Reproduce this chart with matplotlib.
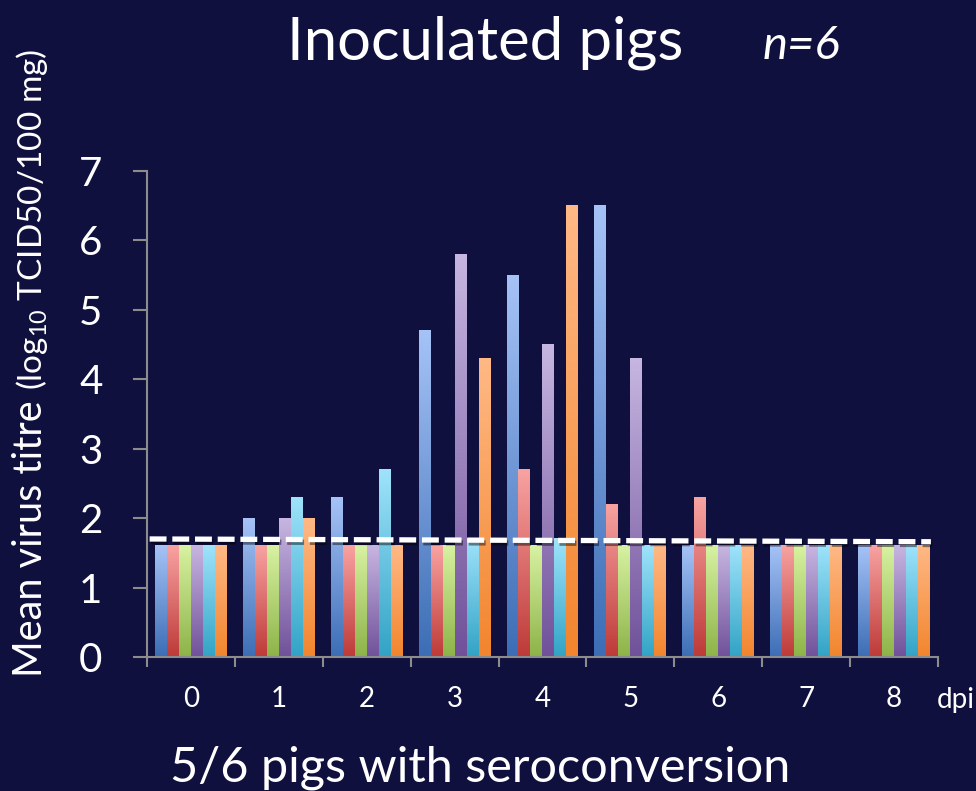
import matplotlib
matplotlib.use("Agg")
import matplotlib.pyplot as plt
import matplotlib.patheffects as pe
import numpy as np
from matplotlib.colors import to_rgb

# titre per pig (log10 TCID50/100 mg) by day post inoculation
days = ["0", "1", "2", "3", "4", "5", "6", "7", "8"]
pig_1 = [1.6, 2.0, 2.3, 4.7, 5.5, 6.5, 1.6, 1.6, 1.6]
pig_2 = [1.6, 1.6, 1.6, 1.6, 2.7, 2.2, 2.3, 1.6, 1.6]
pig_3 = [1.6, 1.6, 1.6, 1.6, 1.6, 1.6, 1.6, 1.6, 1.6]
pig_4 = [1.6, 2.0, 1.6, 5.8, 4.5, 4.3, 1.6, 1.6, 1.6]
pig_5 = [1.6, 2.3, 2.7, 1.7, 1.7, 1.6, 1.6, 1.6, 1.6]
pig_6 = [1.6, 2.0, 1.6, 4.3, 6.5, 1.6, 1.6, 1.6, 1.6]
detection_limit = [1.70, 1.66]

# (top, bottom) gradient colours for each pig
pig_colors = [
    ("#a6c3f7", "#3c6db5"),
    ("#f8a3a2", "#bd3a38"),
    ("#d8f2a2", "#8db348"),
    ("#c7b6e1", "#70519a"),
    ("#9fe3fb", "#32a3c5"),
    ("#ffb986", "#f2852d"),
]

BG = "#10103f"
AXIS = "#8c8c8c"

plt.rcParams["font.family"] = ["Lato", "DejaVu Sans"]
plt.rcParams["mathtext.fontset"] = "custom"
plt.rcParams["mathtext.rm"] = "Lato"

fig = plt.figure(figsize=(9.76, 7.91), dpi=100, facecolor=BG)
ax = fig.add_axes([0.1506, 0.1694, 0.8104, 0.6144], facecolor=BG)

pigs = [pig_1, pig_2, pig_3, pig_4, pig_5, pig_6]
x = np.arange(len(days))
group = 0.818
width = group / len(pigs)


def gradient(top, bottom, n=256):
    t = np.linspace(0, 1, n)[:, None]
    c0 = np.array(to_rgb(top))
    c1 = np.array(to_rgb(bottom))
    return (c0 * (1 - t) + c1 * t)[:, None, :]


for j, (vals, (top, bottom)) in enumerate(zip(pigs, pig_colors)):
    offs = x - group / 2 + j * width
    bars = ax.bar(offs, vals, width=width, align="edge", color="none", linewidth=0)
    grad = gradient(top, bottom)
    for b in bars:
        ax.imshow(grad, extent=[b.get_x(), b.get_x() + b.get_width(), 0, b.get_height()],
                  aspect="auto", interpolation="bilinear", origin="upper", zorder=2)

ax.plot([-0.47, 8.42], detection_limit, color="white", lw=3.8, dashes=(3.2, 1.1),
        solid_capstyle="butt", dash_capstyle="butt", zorder=4,
        path_effects=[pe.SimpleLineShadow(offset=(1, -2), shadow_color="black", alpha=0.45),
                      pe.Normal()])

ax.set_xlim(-0.5, len(days) - 0.5)
ax.set_ylim(0, 7)

for side in ("top", "right"):
    ax.spines[side].set_visible(False)
for side in ("left", "bottom"):
    ax.spines[side].set_color(AXIS)
    ax.spines[side].set_linewidth(1.5)

ax.set_yticks(range(8))
ax.tick_params(axis="y", colors=AXIS, length=10, width=1.5, pad=22,
               labelcolor="white", labelsize=29)
ax.set_xticks(x)
ax.set_xticklabels(days)
ax.set_xticks(np.arange(len(days) + 1) - 0.5, minor=True)
ax.tick_params(axis="x", which="major", length=0, pad=21, labelcolor="white", labelsize=20)
ax.tick_params(axis="x", which="minor", colors=AXIS, length=7.5, width=1.5)

fig.text(0.497, 0.925, "Inoculated pigs", color="white", fontsize=43, ha="center", va="baseline")
fig.text(0.821, 0.925, "n=6", color="white", fontsize=34, style="italic", ha="center", va="baseline")
fig.text(0.960, 0.105, "dpi", color="white", fontsize=20, ha="left", va="baseline")
fig.text(0.492, 0.012, "5/6 pigs with seroconversion", color="white", fontsize=35,
         ha="center", va="baseline")

# y label in two sizes: main words larger, units smaller
main = fig.text(0.043, 0.144, "Mean virus titre ", color="white", fontsize=28.5, rotation=90,
                rotation_mode="anchor", ha="left", va="baseline")
fig.canvas.draw()
bb = main.get_window_extent().transformed(fig.transFigure.inverted())
fig.text(0.043, bb.y1, r"(log$\mathregular{_{10}}$ TCID50/100 mg)", color="white", fontsize=24,
         rotation=90, rotation_mode="anchor", ha="left", va="baseline")

fig.savefig("out.png", dpi=100, facecolor=BG)
